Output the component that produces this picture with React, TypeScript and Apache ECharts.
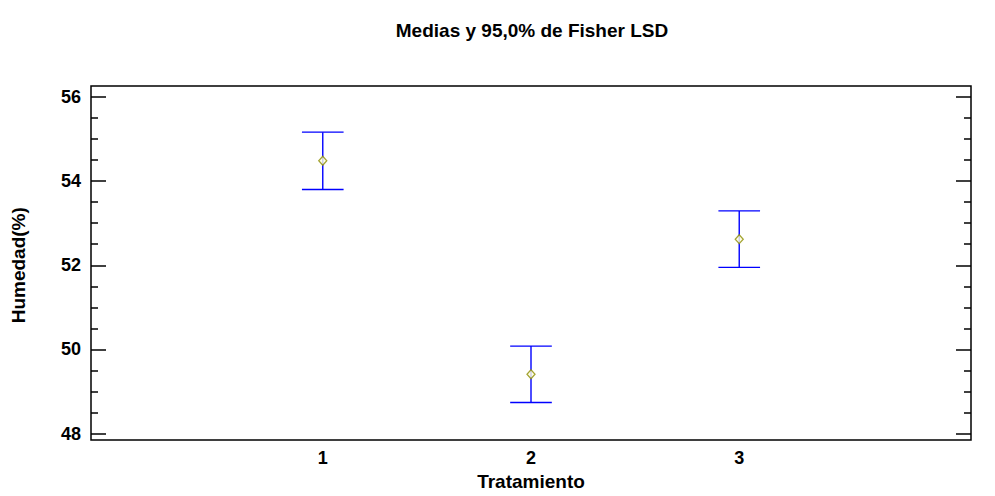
import React, { useEffect, useRef } from "react";
import * as echarts from "echarts";

const categories = [1, 2, 3];
const means = [54.48, 49.41, 52.62];
const lowerBounds = [53.8, 48.74, 51.95];
const upperBounds = [55.16, 50.08, 53.29];
const xLabels = [1, 2, 3];
const yTickMin = 48;
const yTickMax = 56;
const yTickStep = 2;

const FONT = "'Liberation Sans', Arial, sans-serif";
const X_MIN = -0.113;
const X_MAX = 4.113;
const CAP = 0.1;

export default function App() {
  const ref = useRef<HTMLDivElement>(null);
  useEffect(() => {
    if (!ref.current) return;
    const chart = echarts.init(ref.current, undefined, { renderer: "svg" });
    const yScale = (position: string, labels: boolean) => ({
      type: "value",
      gridIndex: 1,
      position,
      min: yTickMin,
      max: yTickMax,
      interval: yTickStep,
      axisLine: { show: false, onZero: false },
      splitLine: { show: false },
      axisTick: { show: true, inside: true, length: 15, lineStyle: { color: "#000", width: 1.5 } },
      minorTick: { show: true, splitNumber: 4, length: 7, lineStyle: { color: "#000", width: 1.5 } },
      minorSplitLine: { show: false },
      axisLabel: {
        show: labels,
        margin: 10,
        color: "#000",
        fontFamily: FONT,
        fontWeight: "bold",
        fontSize: 18,
      },
    });
    const errData = categories.map((c, i) => [c, lowerBounds[i], upperBounds[i]]);
    chart.setOption({
      animation: false,
      backgroundColor: "#fff",
      title: {
        text: "Medias y 95,0% de Fisher LSD",
        left: 527,
        textAlign: "center",
        top: 16,
        textStyle: { fontFamily: FONT, fontWeight: "bold", fontSize: 19, color: "#000" },
      },
      grid: [
        {
          left: 91,
          right: 24,
          top: 86,
          bottom: 51.5,
          show: true,
          borderColor: "#000",
          borderWidth: 1.5,
          backgroundColor: "transparent",
        },
        { left: 91, right: 24, top: 96.8, bottom: 62.3 },
      ],
      xAxis: [
        {
          type: "value",
          gridIndex: 0,
          min: X_MIN,
          max: X_MAX,
          name: "Tratamiento",
          nameLocation: "middle",
          nameGap: 23,
          nameTextStyle: { fontFamily: FONT, fontWeight: "bold", fontSize: 19, color: "#000" },
          axisLine: { show: false, onZero: false },
          axisTick: { show: false },
          splitLine: { show: false },
          axisLabel: {
            customValues: xLabels,
            margin: 9,
            color: "#000",
            fontFamily: FONT,
            fontWeight: "bold",
            fontSize: 18,
          },
        },
        {
          type: "value",
          gridIndex: 1,
          min: X_MIN,
          max: X_MAX,
          show: false,
          axisLine: { onZero: false },
          splitLine: { show: false },
        },
      ],
      yAxis: [
        {
          type: "value",
          gridIndex: 0,
          min: 0,
          max: 1,
          show: false,
          axisLine: { onZero: false },
          splitLine: { show: false },
        },
        {
          ...yScale("left", true),
          name: "Humedad(%)",
          nameLocation: "middle",
          nameGap: 63,
          nameTextStyle: { fontFamily: FONT, fontWeight: "bold", fontSize: 19, color: "#000" },
        },
        yScale("right", false),
      ],
      series: [
        {
          type: "custom",
          xAxisIndex: 1,
          yAxisIndex: 1,
          data: errData,
          renderItem: (params: any, api: any) => {
            const x = api.value(0);
            const lo = api.coord([x, api.value(1)]);
            const hi = api.coord([x, api.value(2)]);
            const l = api.coord([x - CAP, api.value(1)]);
            const r = api.coord([x + CAP, api.value(1)]);
            const style = { stroke: "#0000ff", lineWidth: 1.4 };
            return {
              type: "group",
              children: [
                { type: "line", shape: { x1: lo[0], y1: lo[1], x2: hi[0], y2: hi[1] }, style },
                { type: "line", shape: { x1: l[0], y1: hi[1], x2: r[0], y2: hi[1] }, style },
                { type: "line", shape: { x1: l[0], y1: lo[1], x2: r[0], y2: lo[1] }, style },
              ],
            };
          },
          z: 2,
        },
        {
          type: "scatter",
          xAxisIndex: 1,
          yAxisIndex: 1,
          data: categories.map((c, i) => [c, means[i]]),
          symbol: "diamond",
          symbolSize: [8, 9],
          itemStyle: { color: "#ffffe0", borderColor: "#8c8c00", borderWidth: 1.3 },
          z: 3,
        },
      ],
    });
    return () => chart.dispose();
  }, []);
  return (
    <div
      ref={ref}
      style={{ position: "fixed", left: 0, top: 0, width: 995, height: 496 }}
    />
  );
}
